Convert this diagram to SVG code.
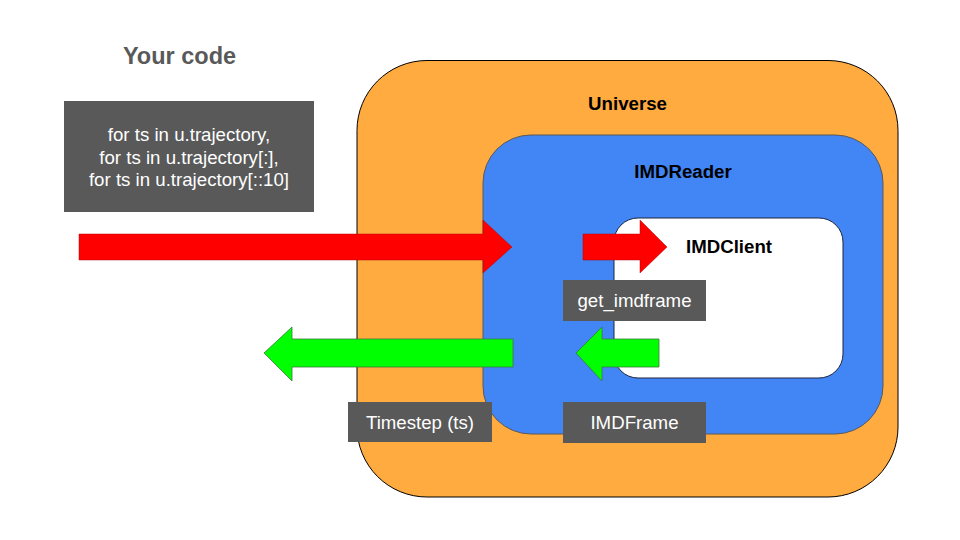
<svg xmlns="http://www.w3.org/2000/svg" width="960" height="540" viewBox="0 0 960 540">
  <style>
    .title { font-family: "Liberation Sans", Arial, sans-serif; font-weight: bold; font-size: 18.67px; fill: #000000; }
    .lbl { font-family: "Liberation Sans", Arial, sans-serif; font-size: 18.67px; fill: #ffffff; text-anchor: middle; }
    .lblbox { fill: #595959; }
    .red { fill: #ff0000; stroke: #b30000; stroke-width: 0.8; stroke-opacity: 0.6; }
    .green { fill: #00ff00; stroke: #3a7a3a; stroke-width: 1; stroke-opacity: 0.8; }
  </style>
  <rect width="960" height="540" fill="#ffffff"/>

  <g id="your-code">
    <text x="179.5" y="64" font-family="'Liberation Sans', Arial, sans-serif" font-weight="bold" font-size="23.5" fill="#595959" text-anchor="middle">Your code</text>
    <rect class="lblbox" x="64" y="101" width="250" height="111"/>
    <text class="lbl" x="189" y="141">for ts in u.trajectory,</text>
    <text class="lbl" x="189" y="163.5">for ts in u.trajectory[:],</text>
    <text class="lbl" x="189" y="186">for ts in u.trajectory[::10]</text>
  </g>

  <g id="universe">
    <rect x="357" y="60.5" width="541" height="436.5" rx="70" ry="70" fill="#ffab40" stroke="#000000" stroke-width="1"/>
    <text class="title" x="627.5" y="110" text-anchor="middle">Universe</text>
  </g>

  <g id="imdreader">
    <rect x="483" y="135" width="400" height="299" rx="48" ry="48" fill="#4285f4" stroke="#595959" stroke-width="1"/>
    <text class="title" x="683" y="178" text-anchor="middle">IMDReader</text>
  </g>

  <g id="imdclient">
    <rect x="614" y="218" width="229" height="160" rx="24" ry="24" fill="#ffffff" stroke="#1c2440" stroke-width="1"/>
    <text class="title" x="686" y="253">IMDClient</text>
  </g>

  <g id="connectors">
    <polygon class="red" points="79,234 483,234 483,220 512,247 483,273 483,260 79,260"/>
    <polygon class="red" points="583,234 640,234 640,220 667,247 640,273 640,260 583,260"/>
    <polygon class="green" points="513,339 292,339 292,327 264,353 292,381 292,367 513,367"/>
    <polygon class="green" points="659,339 602,339 602,327 576,353 602,381 602,367 659,367"/>
  </g>

  <g id="label-get-imdframe">
    <rect class="lblbox" x="563" y="280" width="143" height="41"/>
    <text class="lbl" x="634.5" y="307">get_imdframe</text>
  </g>

  <g id="label-timestep">
    <rect class="lblbox" x="348" y="402" width="144" height="40"/>
    <text class="lbl" x="420" y="429">Timestep (ts)</text>
  </g>

  <g id="label-imdframe">
    <rect class="lblbox" x="563" y="402" width="143" height="41"/>
    <text class="lbl" x="634.5" y="429">IMDFrame</text>
  </g>
</svg>
